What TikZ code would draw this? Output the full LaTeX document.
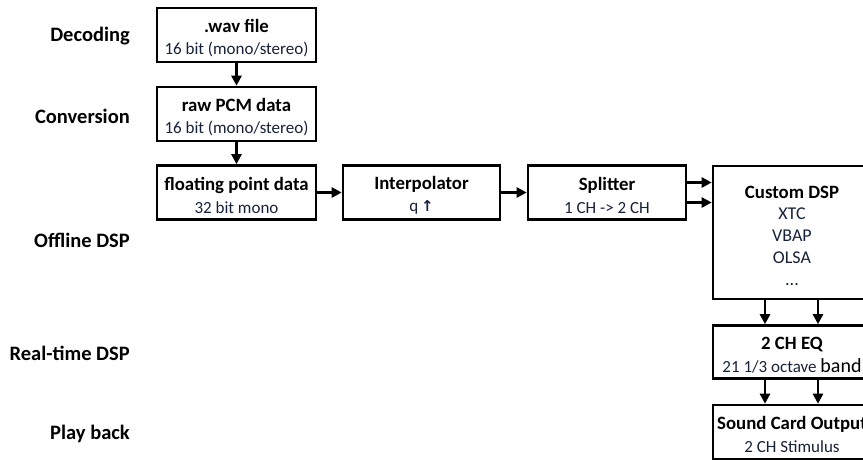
\documentclass[tikz,border=0pt]{standalone}
\usepackage{fontspec}
\setmainfont{Carlito}
\newfontfamily\symfont{DejaVu Sans}
\usetikzlibrary{arrows.meta}
\definecolor{subtxt}{HTML}{16213A}
\tikzset{
  stage/.style={font=\bfseries\fontsize{20.5}{24}\selectfont, anchor=east, inner sep=0pt},
  blockbox/.style={draw, line width=2.6pt, minimum width=159pt, minimum height=54pt, inner sep=0pt},
  boxtext/.style={align=center, inner sep=0pt, font=\fontsize{17}{22.5}\selectfont},
  flow/.style={line width=2.6pt, -{Triangle[length=10pt,width=10pt]}},
}
\newcommand{\ttl}[1]{{\bfseries\fontsize{18.8}{22.5}\selectfont #1}}
\newcommand{\sub}[1]{{\color{subtxt}#1}}
\begin{document}
\begin{tikzpicture}[x=1pt,y=-1pt]
\useasboundingbox (0,0) rectangle (863,459);

% stage labels
\node[stage] (lDec)  at (130,36)  {Decoding};
\node[stage] (lConv) at (130,116) {Conversion};
\node[stage] (lOff)  at (130,240) {Offline DSP};
\node[stage] (lRt)   at (130,353) {Real-time DSP};
\node[stage] (lPlay) at (130,434) {Play back};

% processing blocks
\node[blockbox] (wav) at (236.5,35) {};
\node[blockbox] (pcm) at (236.5,114) {};
\node[blockbox] (fpd) at (236.5,192.5) {};
\node[blockbox, minimum width=157pt] (interp) at (421.5,192.5) {};
\node[blockbox, minimum width=158pt] (split) at (607,192.5) {};
\node[blockbox, minimum width=158pt, minimum height=133pt] (dsp) at (792,232.5) {};
\node[blockbox, minimum width=158pt, minimum height=53pt] (eq) at (792,352) {};
\node[blockbox, minimum width=158pt] (snd) at (792,432) {};

% block contents
\node[boxtext] (wavT) at ([yshift=-3pt]wav.center) {\ttl{.wav file}\\\sub{16 bit (mono/stereo)}};
\node[boxtext] (pcmT) at ([yshift=-3pt]pcm.center) {\ttl{raw PCM data}\\\sub{16 bit (mono/stereo)}};
\node[boxtext] (fpdT) at ([yshift=-3pt]fpd.center) {\ttl{floating point data}\\\sub{32 bit mono}};
\node[boxtext] (interpT) at ([yshift=-3pt]interp.center)
  {\ttl{Interpolator}\\\sub{q\,{\symfont\bfseries\fontsize{15}{16}\selectfont ↑}}};
\node[boxtext] (splitT) at ([yshift=-3pt]split.center) {\ttl{Splitter}\\\sub{1 CH -> 2 CH}};
\node[boxtext, font=\fontsize{18}{21.7}\selectfont] (dspT) at ([yshift=-3pt]dsp.center)
  {\ttl{Custom DSP}\\\sub{XTC}\\\sub{VBAP}\\\sub{OLSA}\\\sub{...}};
\node[boxtext] (eqT) at ([yshift=-3pt]eq.center)
  {\ttl{2 CH EQ}\\\sub{21 1/3 octave} {\fontsize{20}{22.5}\selectfont band}};
\node[boxtext] (sndT) at ([yshift=-2.5pt]snd.center) {\ttl{Sound Card Output}\\\sub{2 CH Stimulus}};

% signal flow
\draw[flow] (wav) -- (pcm);
\draw[flow] (pcm) -- (fpd);
\draw[flow] (fpd) -- (interp);
\draw[flow] (interp) -- (split);
\draw[flow] ([yshift=10pt]split.east) -- ([yshift=10pt]split.east -| dsp.west);
\draw[flow] ([yshift=-10pt]split.east) -- ([yshift=-10pt]split.east -| dsp.west);
\draw[flow] ([xshift=-27pt]dsp.south) -- ([xshift=-27pt]eq.north);
\draw[flow] ([xshift=26pt]dsp.south) -- ([xshift=26pt]eq.north);
\draw[flow] ([xshift=-27pt]eq.south) -- ([xshift=-27pt]snd.north);
\draw[flow] ([xshift=26pt]eq.south) -- ([xshift=26pt]snd.north);
\end{tikzpicture}
\end{document}
